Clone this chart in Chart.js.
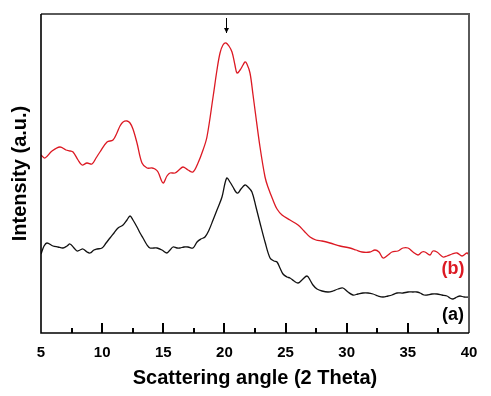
<!DOCTYPE html>
<html>
<head>
<meta charset="utf-8">
<script src="https://cdn.jsdelivr.net/npm/chart.js@4"></script>
<style>
html,body{margin:0;padding:0;background:#fff;}
#wrap{width:491px;height:396px;}
</style>
</head>
<body>
<div id="wrap"><canvas id="c" width="491" height="396"></canvas></div>
<script>
// Sample (a) - black
const angleA = [5.0,5.25,5.49,5.98,6.39,6.80,7.13,7.37,7.70,7.94,8.19,8.43,8.76,9.01,9.33,9.58,9.99,10.32,10.64,10.97,11.30,11.71,12.03,12.28,12.52,12.85,13.10,13.34,13.67,13.91,14.24,14.49,14.89,15.30,15.55,15.79,16.12,16.37,16.69,17.02,17.43,17.76,18.08,18.41,18.74,19.07,19.39,19.80,20.05,20.21,20.45,20.70,20.94,21.11,21.35,21.68,21.93,22.25,22.58,22.91,23.32,23.73,24.05,24.30,24.54,24.79,25.12,25.36,25.69,26.02,26.34,26.75,27.00,27.24,27.57,27.98,28.47,28.88,29.29,29.69,30.10,30.51,30.92,31.33,31.74,32.15,32.56,32.97,33.38,33.70,34.11,34.60,35.01,35.42,35.74,35.99,36.32,36.56,36.97,37.38,37.79,38.20,38.44,38.69,39.02,39.26,39.59,40.0];
const intensityA = [79,87,90,87,86,85,87,89,85,82,83,84,81,80,83,84,85,90,95,100,105,108,113,117,113,106,100,95,88,85,85,85,83,80,83,86,85,85,86,86,85,91,94,96,103,113,123,136,150,155,151,146,141,140,144,148,146,141,126,110,91,75,72,71,65,59,56,55,52,50,53,57,53,48,44,42,41,42,44,45,41,38,39,40,40,39,37,36,37,38,40,40,41,41,41,40,38,38,39,39,38,37,35,34,36,37,36,36];

// Sample (b) - red
const angleB = [5.0,5.33,5.90,6.55,7.04,7.37,7.62,8.03,8.35,8.76,9.17,9.50,9.82,10.40,10.89,11.21,11.46,11.71,12.03,12.28,12.52,12.85,13.26,13.67,14.08,14.32,14.57,14.98,15.30,15.55,15.96,16.28,16.61,17.02,17.43,17.84,18.25,18.57,19.07,19.39,19.64,19.88,20.13,20.37,20.62,20.86,21.03,21.28,21.52,21.68,21.84,22.09,22.34,22.50,22.91,23.32,23.56,23.97,24.30,24.71,25.36,26.02,26.51,27.00,27.48,27.98,28.63,29.45,30.26,30.76,31.25,31.90,32.31,32.64,32.97,33.38,33.70,34.19,34.60,35.01,35.42,35.83,36.16,36.40,36.81,37.05,37.38,37.87,38.20,38.61,39.02,39.43,39.83,40.0];
const intensityB = [178,175,182,186,183,182,181,173,168,170,169,175,181,191,193,200,207,211,212,210,204,190,170,165,165,164,161,150,157,160,160,163,166,163,161,170,183,196,236,263,280,288,290,287,281,268,260,263,268,271,269,260,238,223,186,156,146,133,124,118,113,108,102,96,93,92,90,87,85,83,81,81,83,81,75,78,81,82,85,85,81,78,81,81,78,82,81,76,77,79,80,77,80,78];

const xTickValues = [5,10,15,20,25,30,35,40];
const xMinorTickValues = [7.5,10,12.5,15,17.5,20,22.5,25,27.5,30,32.5,35,37.5];
const seriesLabels = ['(a)', '(b)'];
const peakMarkAngle = 20.13;

const FONT = "'Liberation Sans', Arial, Helvetica, sans-serif";

const toPoints = (xs, ys) => xs.map((x, i) => ({x: x, y: ys[i]}));

const decorPlugin = {
  id: 'decor',
  afterDraw(chart) {
    const ctx = chart.ctx;
    const a = chart.chartArea;
    const xs = chart.scales.x, ys = chart.scales.y;
    ctx.save();
    // frame
    ctx.strokeStyle = '#5a5a5a';
    ctx.lineWidth = 2;
    ctx.beginPath();
    ctx.moveTo(a.left, a.top);
    ctx.lineTo(a.right, a.top);
    ctx.lineTo(a.right, a.bottom);
    ctx.stroke();
    ctx.strokeStyle = '#000';
    ctx.lineWidth = 1.6;
    ctx.beginPath();
    ctx.moveTo(a.left, a.top);
    ctx.lineTo(a.left, a.bottom);
    ctx.lineTo(a.right, a.bottom);
    ctx.stroke();
    // inward ticks
    const yb = ys.getPixelForValue(0);
    ctx.fillStyle = '#000';
    for (let i = 0; i < xMinorTickValues.length; i++) {
      const v = xMinorTickValues[i];
      const px = xs.getPixelForValue(v);
      const len = (xTickValues.indexOf(v) >= 0) ? 10 : 5;
      ctx.fillRect(Math.round(px) - 1, yb - len, 2, len);
    }
    // series labels
    ctx.font = "bold 18px " + FONT;
    ctx.textAlign = 'center';
    ctx.textBaseline = 'middle';
    ctx.fillStyle = 'rgb(220,25,35)';
    ctx.fillText(seriesLabels[1], xs.getPixelForValue(38.69), ys.getPixelForValue(64));
    ctx.fillStyle = '#000';
    ctx.fillText(seriesLabels[0], xs.getPixelForValue(38.69), ys.getPixelForValue(18));
    // arrow
    const ax = Math.round(xs.getPixelForValue(peakMarkAngle)) + 0.5;
    const y0 = ys.getPixelForValue(315), y1 = ys.getPixelForValue(300);
    ctx.strokeStyle = '#000';
    ctx.lineWidth = 1;
    ctx.beginPath();
    ctx.moveTo(ax, y0);
    ctx.lineTo(ax, y1);
    ctx.stroke();
    ctx.beginPath();
    ctx.moveTo(ax - 2.5, y1 - 5);
    ctx.lineTo(ax, y1);
    ctx.lineTo(ax + 2.5, y1 - 5);
    ctx.closePath();
    ctx.fillStyle = '#000';
    ctx.fill();
    ctx.restore();
  }
};

new Chart(document.getElementById('c'), {
  type: 'line',
  data: {
    datasets: [
      {
        label: seriesLabels[0],
        data: toPoints(angleA, intensityA),
        borderColor: '#111',
        borderWidth: 1.3,
        pointRadius: 0,
        tension: 0.35,
        fill: false
      },
      {
        label: seriesLabels[1],
        data: toPoints(angleB, intensityB),
        borderColor: 'rgb(220,25,35)',
        borderWidth: 1.3,
        pointRadius: 0,
        tension: 0.35,
        fill: false
      }
    ]
  },
  options: {
    responsive: false,
    animation: false,
    devicePixelRatio: 1,
    layout: { padding: { top: 14, right: 22, left: 0, bottom: 0 } },
    plugins: { legend: { display: false }, tooltip: { enabled: false } },
    scales: {
      x: {
        type: 'linear',
        min: 5,
        max: 40,
        afterBuildTicks(scale) {
          scale.ticks = xTickValues.map(v => ({ value: v }));
        },
        afterFit(scale) { scale.height = 63; },
        grid: { display: false, drawTicks: false },
        border: { display: false },
        ticks: {
          autoSkip: false,
          maxRotation: 0,
          padding: 11,
          color: '#000',
          font: { family: FONT, size: 15, weight: 'bold' }
        },
        title: {
          display: true,
          text: 'Scattering angle (2 Theta)',
          color: '#000',
          font: { family: FONT, size: 20, weight: 'bold' },
          padding: { top: 0, bottom: 6 }
        }
      },
      y: {
        min: 0,
        max: 319,
        afterFit(scale) { scale.width = 41; },
        grid: { display: false, drawTicks: false },
        border: { display: false },
        ticks: { display: false },
        title: {
          display: true,
          text: 'Intensity (a.u.)',
          color: '#000',
          font: { family: FONT, size: 20, weight: 'bold' },
          padding: { top: 8, bottom: 0 }
        }
      }
    }
  },
  plugins: [decorPlugin]
});
</script>
</body>
</html>
